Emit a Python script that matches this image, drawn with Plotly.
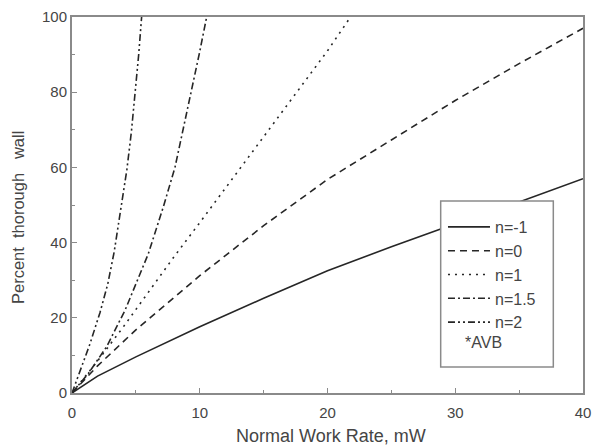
import plotly.graph_objects as go

# ---- data ----
x_nm1 = [0, 2, 5, 10, 15, 20, 25, 30, 35, 40]
y_nm1 = [0, 4.5, 9.6, 17.6, 25.2, 32.5, 38.9, 45.0, 50.8, 57]

x_n0 = [0, 2, 5, 10, 15, 20, 25, 30, 35, 40]
y_n0 = [0, 7.2, 16.8, 31.2, 44.5, 56.8, 67.3, 77.8, 87.6, 97]

x_n1 = [0, 2, 4, 6, 8, 10, 12, 14, 16, 18, 20, 21.8]
y_n1 = [0, 8.5, 17.5, 27, 36.3, 45.3, 54.5, 63.6, 72.8, 82, 91, 100]

x_n15 = [0, 1.28, 2.71, 4.15, 5.97, 7.15, 8.06, 8.7, 9.35, 9.95, 10.54]
y_n15 = [0, 5.2, 12.3, 22, 37, 49.5, 60, 70, 80, 90, 100]

x_n2 = [0, 0.7, 1.4, 2.2, 2.8, 3.3, 3.8, 4.3, 4.65, 4.95, 5.22, 5.45]
y_n2 = [0, 6.5, 13, 21.5, 29, 37.5, 48, 59.5, 69.5, 79.5, 90, 100]

names = ["n=-1", "n=0", "n=1", "n=1.5", "n=2"]
x_ticks = [0, 10, 20, 30, 40]
y_ticks = [0, 20, 40, 60, 80, 100]

FONT = "Liberation Sans, Arial, sans-serif"
LC = "#262626"
AX = "#8a8a8a"
TXT = "#454545"

dashes = ["solid", "7px,5px", "2px,5px", "7px,3px,2px,3px", "7px,3px,2px,3px,2px,3px"]
series = [(x_nm1, y_nm1), (x_n0, y_n0), (x_n1, y_n1), (x_n15, y_n15), (x_n2, y_n2)]

fig = go.Figure()
for i, ((xs, ys), nm, d) in enumerate(zip(series, names, dashes)):
    fig.add_trace(go.Scatter(x=xs, y=ys, mode="lines", name=nm, legendgroup=f"g{i}",
                             line=dict(color=LC, width=1.6, dash=d)))

axis_common = dict(
    showline=True, linecolor=AX, linewidth=2, mirror=True,
    ticks="inside", ticklen=5, tickwidth=1, tickcolor=AX,
    showgrid=False, zeroline=False, automargin=False,
    tickfont=dict(family=FONT, size=15, color=TXT),
    minor=dict(ticks="inside", ticklen=3, tickwidth=1, tickcolor=AX, showgrid=False),
)

fig.update_xaxes(range=[0, 40], tickvals=x_ticks, minor_dtick=5, ticklabelstandoff=5,
                 **axis_common)
fig.update_yaxes(range=[0, 100], tickvals=y_ticks, minor_dtick=10,
                 **axis_common)

# legend frame
fig.add_shape(type="rect", xref="paper", yref="paper",
              x0=0.7215, x1=0.9419, y0=0.0691, y1=0.5106,
              line=dict(color=AX, width=1.5), fillcolor="white", layer="above")

fig.update_layout(
    width=596, height=448,
    margin=dict(l=72, r=13, t=17, b=55, autoexpand=False),
    plot_bgcolor="white", paper_bgcolor="white",
    font=dict(family=FONT, color=TXT),
    legend=dict(x=0.726, y=0.4867, xanchor="left", yanchor="top",
                borderwidth=0, bgcolor="rgba(0,0,0,0)",
                font=dict(family=FONT, size=16, color=TXT),
                tracegroupgap=0, itemwidth=42),
)
# axis titles as paper annotations
fig.add_annotation(text="Normal Work Rate, mW",
                   xref="paper", yref="paper", x=0.506, y=-0.115,
                   xanchor="center", yanchor="middle", showarrow=False,
                   font=dict(family=FONT, size=18, color=TXT))
fig.add_annotation(text="Percent\u00a0\u00a0thorough\u00a0\u00a0\u00a0wall",
                   xref="paper", yref="paper", x=-0.1057, y=0.468,
                   xanchor="center", yanchor="middle", textangle=-90, showarrow=False,
                   font=dict(family=FONT, size=16.5, color=TXT))
fig.add_annotation(text="*AVB", xref="paper", yref="paper", x=0.765, y=0.1356,
                   xanchor="left", yanchor="middle", showarrow=False,
                   font=dict(family=FONT, size=16, color=TXT))

fig.write_html("out.html")
